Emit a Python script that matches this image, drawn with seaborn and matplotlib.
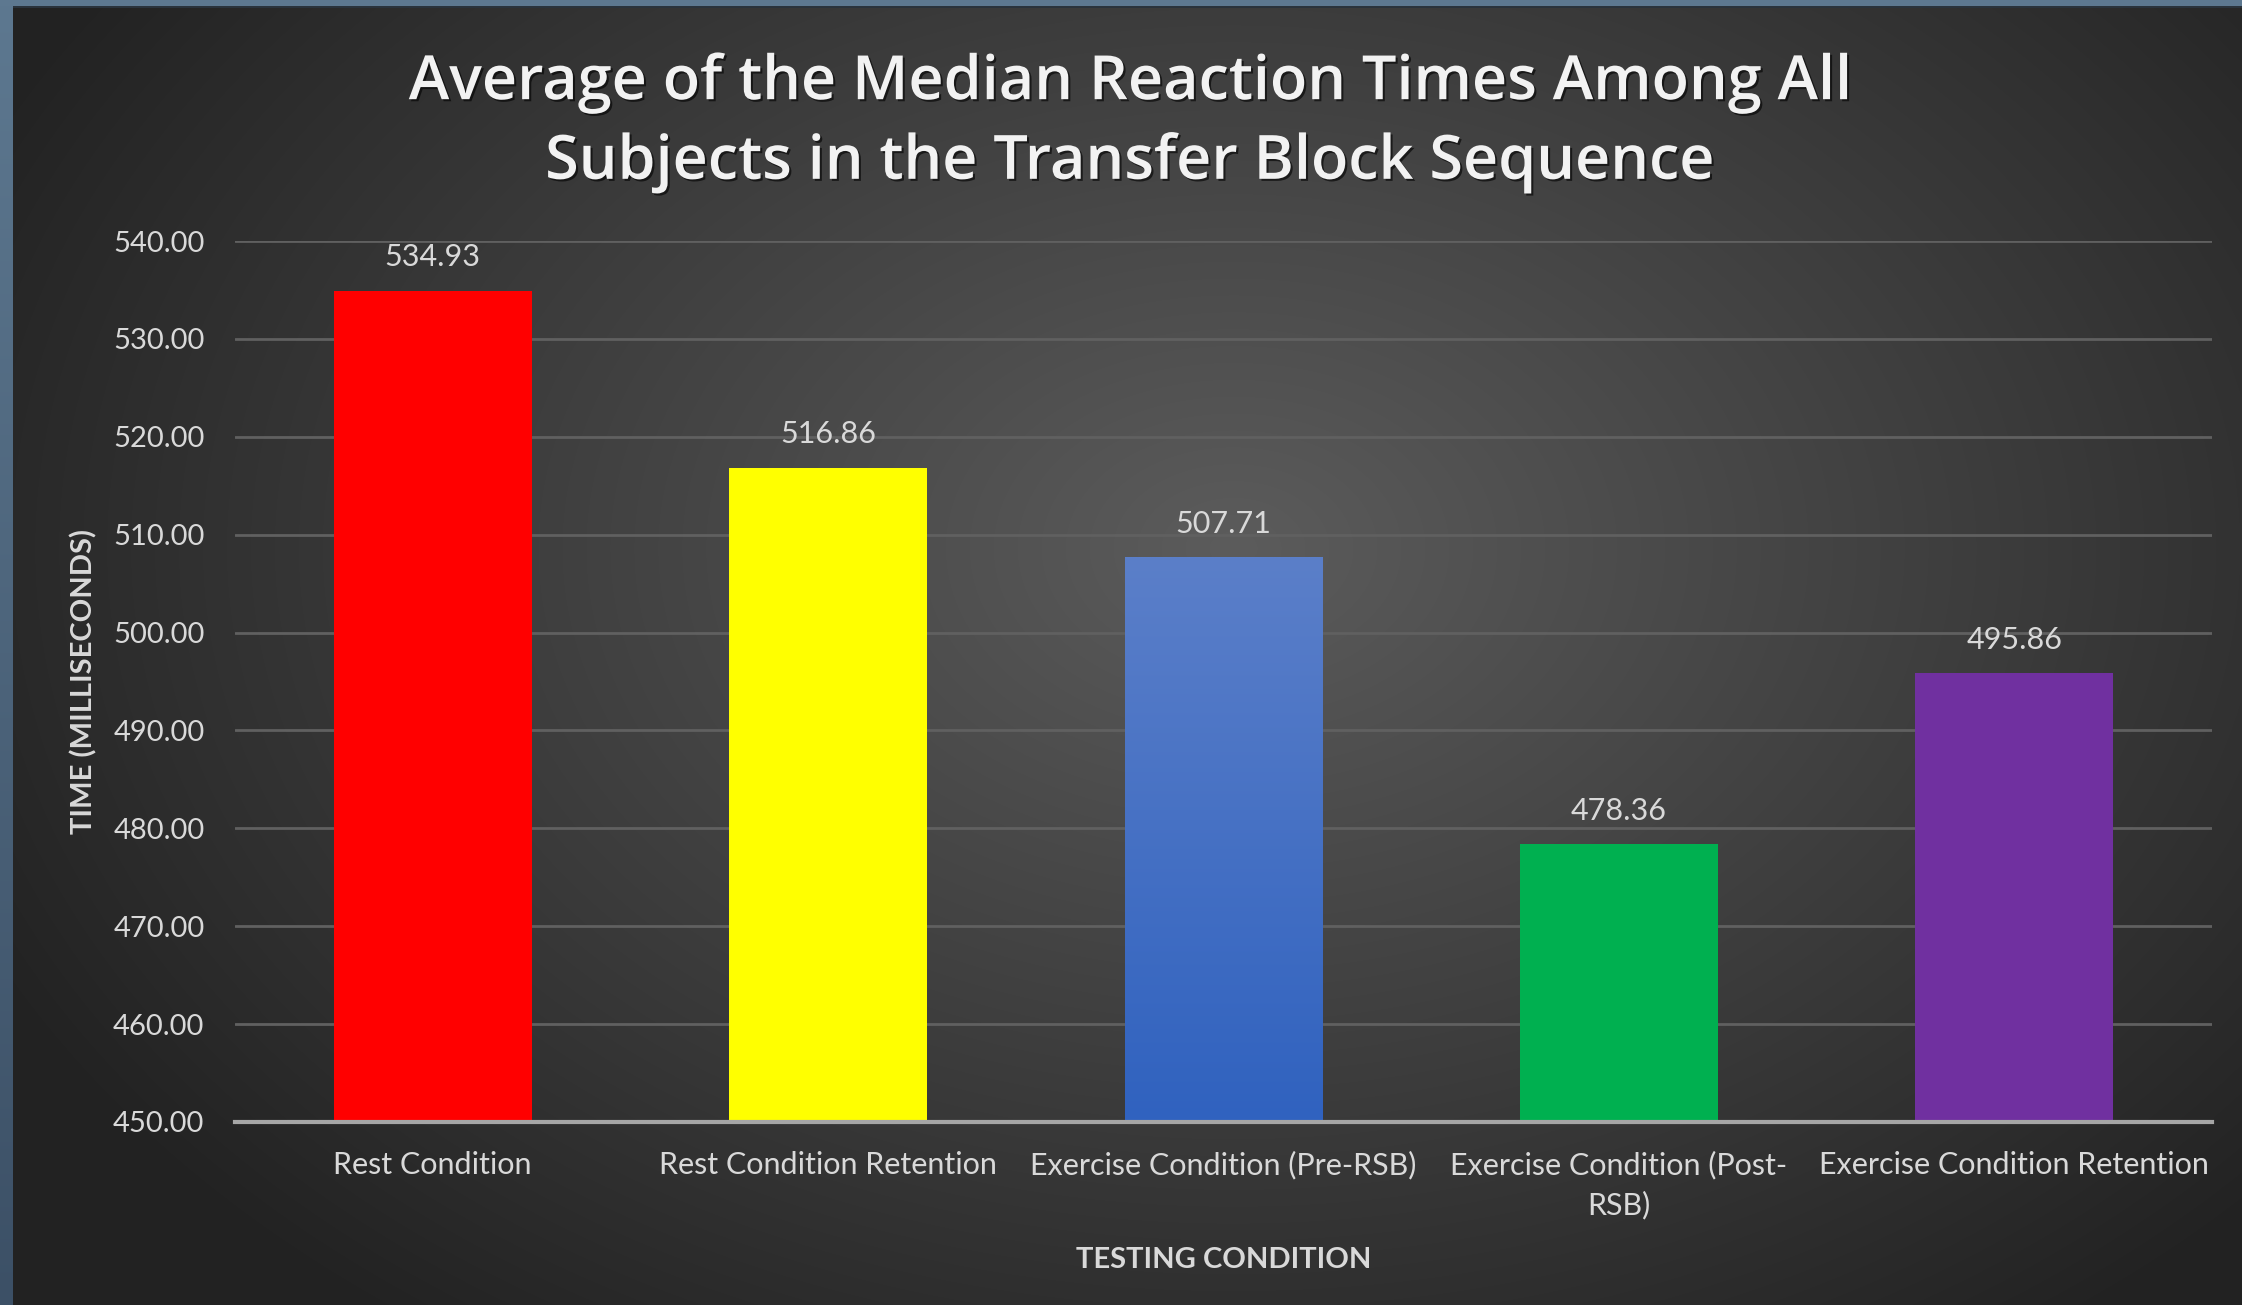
import numpy as np
import pandas as pd
import matplotlib
matplotlib.use("Agg")
import matplotlib.pyplot as plt
import matplotlib.patheffects as pe
import seaborn as sns

# chart data
conditions = ["Rest Condition", "Rest Condition Retention", "Exercise Condition (Pre-RSB)",
              "Exercise Condition (Post-\nRSB)", "Exercise Condition Retention"]
times = [534.93, 516.86, 507.71, 478.36, 495.86]
bar_colors = ["#FF0000", "#FFFF00", "#4472C4", "#00B050", "#7030A0"]
y_ticks = [450, 460, 470, 480, 490, 500, 510, 520, 530, 540]

df = pd.DataFrame({"condition": conditions, "time": times})

sns.set_theme(style="dark")
plt.rcParams["font.family"] = ["Lato", "DejaVu Sans"]

W, H = 2242, 1305
fig = plt.figure(figsize=(W / 100, H / 100), dpi=100)

# radial gradient background + blue frame
bg = fig.add_axes([0, 0, 1, 1], zorder=-10)
yy, xx = np.mgrid[0:H, 0:W]
r = np.sqrt(((xx - W * 0.55) / (W * 0.62)) ** 2 + ((yy - H * 0.42) / (H * 0.75)) ** 2)
r = np.clip(r, 0, 1)
lo, hi = np.array([0x5c, 0x5c, 0x5c]) / 255, np.array([0x22, 0x22, 0x22]) / 255
img = lo[None, None, :] * (1 - r[..., None]) + hi[None, None, :] * r[..., None]
# frame
frame = np.linspace([0x5d, 0x78, 0x90], [0x3c, 0x50, 0x66], H) / 255
img[:, :13, :] = frame[:, None, :]
img[:6, :, :] = np.array([0x5d, 0x78, 0x90]) / 255
img[6:8, 13:, :] = np.array([0x2a, 0x33, 0x3c]) / 255
bg.imshow(img, aspect="auto", extent=[0, 1, 0, 1], interpolation="bilinear")
bg.set_axis_off()

ax = fig.add_axes([235 / W, 1 - 1122 / H, (2212 - 235) / W, (1122 - 241) / H])
ax.patch.set_alpha(0)

sns.barplot(data=df, x="condition", y="time", hue="condition", palette=bar_colors,
            width=0.5, legend=False, ax=ax, saturation=1, zorder=3)

shadow = [pe.SimplePatchShadow(offset=(0, -2), shadow_rgbFace="black", alpha=0.35), pe.Normal()]
for bar in ax.patches:
    bar.set_path_effects(shadow)
    bar.set_edgecolor("none")

# gradient on the blue bar
blue = ax.patches[2]
x0, w = blue.get_x(), blue.get_width()
grad = np.linspace([0x5b, 0x7f, 0xc9], [0x30, 0x62, 0xbf], 200)[:, None, :] / 255
gi = ax.imshow(grad, aspect="auto", extent=[x0, x0 + w, 450, times[2]],
               origin="upper", zorder=4, interpolation="bilinear")
gi.set_clip_path(blue)

ax.set_ylim(450, 540)
ax.set_xlim(-0.5, 4.5)
ax.set_yticks(y_ticks)
ax.set_yticklabels([f"{v:.2f}" for v in y_ticks])
ax.grid(axis="y", color="#606060", linewidth=2, zorder=0)
ax.grid(axis="x", visible=False)
for s in ["left", "right", "top"]:
    ax.spines[s].set_visible(False)
ax.spines["bottom"].set_color("#a6a6a6")
ax.spines["bottom"].set_linewidth(3)
ax.spines["bottom"].set_zorder(5)
ax.tick_params(axis="y", colors="#d9d9d9", labelsize=21, pad=22, length=0)
ax.tick_params(axis="x", colors="#d9d9d9", labelsize=22, pad=21, length=0)
for lbl in ax.get_xticklabels():
    lbl.set_linespacing(1.45)

for bar, v in zip(ax.patches, times):
    ax.annotate(f"{v:.2f}", (bar.get_x() + bar.get_width() / 2, v), xytext=(0, 14),
                textcoords="offset points", ha="center", va="bottom",
                color="#d9d9d9", fontsize=22)

ax.set_xlabel("TESTING CONDITION", color="#d9d9d9", fontsize=21, fontweight="bold")
ax.set_ylabel("TIME (MILLISECONDS)", color="#d9d9d9", fontsize=21, fontweight="bold")
ax.xaxis.set_label_coords(0.5, -0.142)
ax.yaxis.set_label_coords(-0.0695, 0.5)

fig.text(1130 / W, 1 - 123 / H,
         "Average of the Median Reaction Times Among All\nSubjects in the Transfer Block Sequence",
         ha="center", va="center", color="#f2f2f2", fontsize=44, fontweight="semibold",
         family=["Open Sans", "DejaVu Sans"], linespacing=1.375,
         path_effects=[pe.withSimplePatchShadow(offset=(1.5, -1.5), shadow_rgbFace="black", alpha=0.6)])

fig.savefig("out.png", dpi=100)
